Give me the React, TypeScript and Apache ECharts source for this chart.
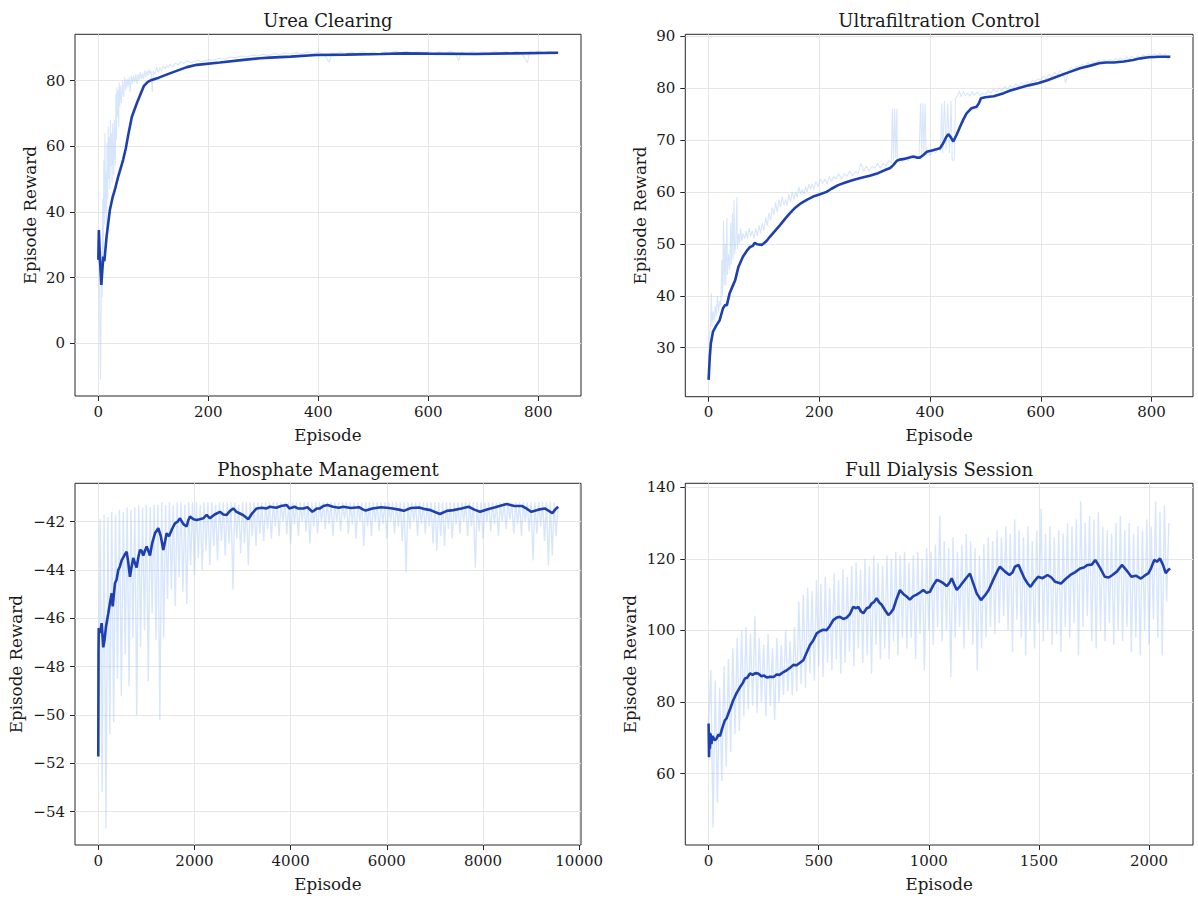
import React, { useEffect, useRef } from 'react';
import * as echarts from 'echarts';

// ---------------- DATA ----------------
// Panel 1: Urea Clearing
const p1Raw: number[][] = [
  [0,25],[1,34],[2,18],[3,4],[4,-11],[5,10],[6,28],[7,14],[8,44],[9,24],[10,56],[11,36],[12,64],[13,40],[14,52],[15,34],[16,61],[17,44],[18,66],[19,50],[20,63],[21,47],[22,68],[23,54],[24,64],[25,49],[26,67],[27,57],[28,51],[29,68],[30,60],[31,54],[32,76],[33,62],[34,78],[35,69],[36,77],[37,66],[38,79.5],[39,72],[40,78.5],[42,73],[44,80],[46,75],[48,81],[50,77],[52,80.5],[54,78],[56,81],[58,76.5],[60,81.5],[62,79],[64,81.5],[66,79.5],[68,82],[70,79],[72,82],[74,80],[76,82.5],[78,80.5],[80,82],[82,80.5],[84,83],[86,81],[88,83],[90,81.5],[92,83.5],[94,82],[96,83],[98,76.5],[100,83],[103,82],[106,84],[109,82.5],[112,84],[115,83],[118,84.5],[121,83.5],[124,84.5],[127,84],[130,85],[135,84.2],[140,85.3],[145,84.8],[150,85.7],[155,85.2],[160,86],[170,85.5],[180,86.2],[190,85.8],[200,86.4],[210,86.2],[220,86.8],[230,86.5],[240,87.2],[250,87],[260,87.5],[270,87.2],[280,87.8],[290,87.5],[300,88],[310,87.6],[320,88.3],[330,87.8],[340,88.5],[350,88],[360,88.6],[370,88.1],[380,88.7],[390,88.2],[400,88.6],[410,88],[420,85.5],[425,88.6],[430,88.1],[440,88.7],[450,88.2],[460,88.7],[470,88.2],[480,88.8],[490,88.3],[500,88.7],[510,88.2],[520,88.8],[530,88.3],[540,88.9],[550,88.4],[560,88.9],[570,88.3],[580,88.8],[590,88.2],[600,88.7],[610,88.2],[620,88.8],[630,88.3],[640,88.9],[650,88.2],[655,86],[660,88.7],[670,88.2],[680,88.8],[690,88.3],[700,88.8],[710,88.2],[720,88.9],[730,88.4],[740,88.8],[750,88.2],[760,88.9],[770,88.3],[780,85.5],[785,88.8],[790,88.3],[800,88.9],[810,88.4],[820,88.9],[830,88.4],[836,88.6]
];
const p1Smooth: number[][] = [
  [0,25.4],[1,34.5],[3,25.4],[5.5,17.8],[9,26.4],[11,25],[15,32.5],[21,40.6],[26,44.5],[30,46.7],[36,50.7],[45,55.8],[50,59.4],[55,64],[61,69],[70,73.1],[77,76],[83,78.4],[90,79.6],[97,80.2],[110,80.9],[130,82.2],[161,84.1],[179,84.8],[221,85.5],[264,86.3],[294,86.8],[312,87.0],[350,87.3],[396,87.8],[450,87.9],[514,88.1],[555,88.3],[600,88.2],[686,88.1],[756,88.3],[836,88.5]
];

// Panel 2: Ultrafiltration Control
const p2Raw: number[][] = [
  [0,24],[2,32],[4,36],[5,40.5],[6,34],[8,37],[10,35],[12,38],[14,36],[16,40],[18,37],[20,39],[22,38],[24,47],[25,40],[27,54.5],[28,42],[30,50],[31,42],[33,55],[34,44],[36,48],[38,45],[40,54],[41,46],[43,56],[44,47],[46,58.5],[47,48],[49,50],[51,59],[52,49],[54,52],[56,50],[58,53],[60,50.5],[62,52],[65,51],[68,52.5],[70,51],[73,53],[76,51.5],[79,52.5],[82,51],[85,53],[88,51.5],[91,53.5],[94,52],[97,54],[100,52.5],[103,55],[106,53.5],[109,56],[112,54.5],[115,57],[118,55.5],[121,58],[124,56],[127,58.5],[130,57],[133,59],[136,57.5],[139,58.5],[142,57.5],[145,59.5],[148,58],[151,60],[154,58.5],[157,60],[160,59],[163,61],[166,59.5],[169,60.5],[172,59.5],[175,61],[178,60],[181,61.5],[184,60.5],[187,61.5],[190,60.5],[194,62],[198,61],[202,62.5],[206,61.5],[210,62.5],[214,61.5],[218,63],[222,62],[226,63],[230,62.5],[235,63.5],[240,62.5],[245,63.5],[250,63],[255,64],[260,63],[265,64],[270,63.5],[275,65.5],[280,64],[285,65],[290,64],[295,65],[300,64.5],[305,65.5],[310,64.5],[315,65.5],[320,65],[325,66],[330,65.5],[332,76],[334,66],[336,76],[338,66.5],[340,76],[341,66],[345,66.5],[350,65.8],[355,66.7],[360,66],[365,67],[370,66.3],[375,67],[380,66.5],[383,77],[385,67],[387,77],[389,67.5],[391,77],[393,67.2],[396,67.8],[400,67],[405,68],[410,67.5],[415,68.5],[419,67.8],[421,77],[423,67.5],[426,77.5],[429,68],[432,77],[435,67.5],[438,77.5],[440,66.2],[442,66],[444,66.5],[446,78],[450,78.5],[453,79.5],[456,78.3],[460,79.3],[464,78.5],[468,79],[472,78.4],[476,79.3],[480,78.6],[485,79.2],[490,78.5],[495,79],[500,78.7],[505,79.5],[510,79],[515,79.8],[520,79.2],[525,80],[530,79.5],[535,80.3],[540,79.8],[545,80.5],[550,80],[555,80.8],[560,80.3],[565,81],[570,80.6],[575,81.3],[580,80.8],[585,81.5],[590,81.2],[595,81.8],[600,81.5],[605,82.3],[610,81.8],[615,82.6],[620,82.2],[625,83],[630,82.5],[635,83.3],[640,82.8],[645,81],[650,83.2],[655,84],[660,83.5],[665,84.2],[670,83.8],[675,84.6],[680,84.1],[685,84.9],[690,84.4],[695,85.1],[700,84.7],[705,85.3],[710,84.9],[715,85.4],[720,85],[725,85.5],[730,85.1],[735,85.7],[740,85.3],[745,85.8],[750,85.4],[755,86],[760,85.6],[765,86.1],[770,85.7],[775,86.2],[780,85.8],[785,86.4],[790,86],[795,86.5],[800,86.1],[805,86.6],[810,86.2],[815,86.7],[820,86.2],[825,86.6],[830,85.5],[834,86.3]
];
const p2Smooth: number[][] = [
  [0,23.8],[2,28],[4,30.8],[8,33.1],[14,34.3],[20,35.3],[26,37.6],[30,38.2],[33,38.2],[38,40.5],[44,42],[48,43],[54,45.6],[62,47.5],[70,48.8],[75,49.4],[80,49.6],[83,50.2],[88,49.9],[96,49.8],[100,50.1],[105,50.6],[111,51.4],[120,52.5],[129,53.6],[138,54.8],[147,55.9],[157,57],[168,57.9],[178,58.5],[189,59.1],[200,59.5],[213,60],[222,60.6],[234,61.3],[247,61.8],[261,62.3],[276,62.7],[291,63.1],[306,63.6],[321,64.3],[328,64.6],[334,65.2],[340,66.0],[345,66.2],[356,66.4],[370,66.8],[376,66.6],[382,66.6],[388,67.1],[394,67.7],[405,68.0],[418,68.4],[424,69.4],[429,70.5],[433,71.1],[437,70.6],[442,69.7],[448,71.0],[454,72.5],[460,73.9],[466,75.1],[475,76.1],[484,76.4],[488,77.0],[492,78.0],[500,78.2],[515,78.4],[533,79.0],[545,79.5],[561,80.0],[578,80.5],[595,80.9],[612,81.5],[630,82.2],[650,83.0],[671,83.8],[690,84.3],[705,84.75],[718,84.9],[732,84.9],[750,85.1],[767,85.4],[780,85.7],[795,85.9],[815,86.0],[834,86.0]
];

// Panel 3: Phosphate Management (raw sampled every 40 episodes)
const p3RawStep = 40;
const p3Raw: number[] = [
  -51.7,-41.9,-53.2,-41.7,-54.7,-41.8,-50.8,-41.6,-50.3,-41.7,
  -48.5,-41.5,-49.2,-41.6,-47.5,-41.4,-48.8,-41.5,-46.8,-41.4,
  -50.0,-41.3,-47.2,-41.4,-46.5,-41.3,-48.6,-41.4,-45.8,-41.3,
  -46.9,-41.3,-50.2,-41.2,-46.8,-41.3,-45.2,-41.2,-44.8,-41.3,
  -45.5,-41.2,-44.3,-41.2,-44.9,-41.3,-45.4,-41.2,-43.8,-41.2,
  -44.2,-41.2,-43.5,-41.3,-44.0,-41.2,-43.2,-41.2,-43.8,-41.2,
  -43.0,-41.3,-43.6,-41.2,-42.8,-41.2,-43.4,-41.2,-42.9,-41.2,
  -44.8,-41.2,-42.7,-41.3,-43.3,-41.2,-42.9,-41.2,-43.8,-41.2,
  -42.6,-41.2,-43.0,-41.2,-42.5,-41.2,-42.8,-41.2,-42.3,-41.2,
  -42.7,-41.2,-42.2,-41.2,-42.6,-41.2,-42.0,-41.2,-42.5,-41.2,
  -42.9,-41.2,-42.1,-41.2,-42.6,-41.2,-42.0,-41.2,-42.4,-41.2,
  -42.9,-41.2,-42.2,-41.2,-42.5,-41.2,-42.0,-41.2,-42.3,-41.2,
  -42.1,-41.2,-42.6,-41.2,-42.0,-41.2,-42.4,-41.2,-41.9,-41.2,
  -42.5,-41.2,-42.1,-41.2,-42.7,-41.2,-42.0,-41.2,-43.0,-41.2,
  -42.2,-41.2,-42.6,-41.2,-42.0,-41.2,-42.4,-41.2,-42.1,-41.2,
  -42.7,-41.2,-42.0,-41.2,-42.5,-41.2,-42.2,-41.2,-42.8,-41.2,
  -44.1,-41.2,-42.3,-41.2,-42.0,-41.2,-42.6,-41.2,-42.1,-41.2,
  -42.5,-41.2,-42.2,-41.2,-42.9,-41.2,-43.2,-41.2,-42.6,-41.2,
  -43.0,-41.2,-42.3,-41.2,-42.7,-41.2,-42.1,-41.2,-42.5,-41.2,
  -42.0,-41.2,-42.6,-41.2,-42.2,-41.2,-43.9,-41.2,-42.4,-41.2,
  -42.7,-41.2,-42.0,-41.2,-42.4,-41.2,-42.1,-41.2,-42.6,-41.2,
  -42.0,-41.2,-42.3,-41.2,-41.9,-41.2,-42.5,-41.2,-42.1,-41.2,
  -42.6,-41.2,-42.0,-41.2,-42.4,-41.2,-43.6,-41.2,-42.5,-41.2,
  -42.2,-41.2,-42.8,-41.2,-43.8,-41.2,-43.4,-41.2,-42.6,-41.4
];
const p3Smooth: number[][] = [
  [0,-51.72],[5,-47.5],[10,-46.4],[40,-46.6],[70,-46.2],[104,-47.2],[130,-46.9],[160,-46.35],[208,-45.8],[240,-45.4],[278,-44.96],[300,-45.5],[347,-44.55],[380,-44.4],[416,-44.0],[450,-43.85],[486,-43.6],[540,-43.4],[590,-43.24],[625,-43.7],[659,-44.28],[690,-43.9],[728,-43.5],[760,-43.7],[797,-43.9],[830,-43.5],[867,-43.17],[900,-43.2],[936,-43.4],[970,-43.2],[1006,-43.03],[1040,-43.2],[1075,-43.4],[1120,-42.9],[1179,-42.48],[1248,-42.27],[1300,-42.6],[1352,-43.17],[1390,-42.8],[1421,-42.48],[1470,-42.6],[1526,-42.34],[1560,-42.2],[1595,-42.07],[1650,-42.0],[1699,-41.86],[1770,-42.1],[1838,-42.2],[1870,-41.95],[1907,-41.79],[1980,-41.9],[2045,-41.93],[2110,-41.9],[2184,-41.86],[2253,-41.72],[2322,-41.86],[2420,-41.7],[2530,-41.59],[2600,-41.7],[2669,-41.72],[2740,-41.55],[2807,-41.45],[2880,-41.6],[2946,-41.66],[3030,-41.75],[3119,-41.9],[3200,-41.65],[3293,-41.45],[3400,-41.42],[3500,-41.45],[3570,-41.38],[3700,-41.42],[3800,-41.35],[3917,-41.31],[3976,-41.45],[4080,-41.38],[4150,-41.45],[4264,-41.45],[4350,-41.4],[4452,-41.59],[4550,-41.45],[4610,-41.45],[4680,-41.35],[4768,-41.31],[4880,-41.38],[5000,-41.42],[5100,-41.38],[5250,-41.43],[5423,-41.4],[5490,-41.48],[5561,-41.54],[5700,-41.45],[5878,-41.4],[6000,-41.42],[6117,-41.45],[6250,-41.5],[6353,-41.55],[6500,-41.43],[6670,-41.41],[6800,-41.48],[6908,-41.52],[7000,-41.6],[7105,-41.68],[7250,-41.55],[7383,-41.52],[7550,-41.45],[7700,-41.38],[7820,-41.5],[7938,-41.59],[8100,-41.48],[8255,-41.4],[8380,-41.33],[8492,-41.27],[8650,-41.35],[8809,-41.35],[8900,-41.45],[9007,-41.59],[9150,-41.5],[9285,-41.45],[9370,-41.55],[9443,-41.65],[9500,-41.5],[9562,-41.38]
];

// Panel 4: Full Dialysis Session (raw sampled every 10 episodes)
const p4RawStep = 10;
const p4Raw: number[] = [
  74,89,45,86,52,84,58,90,62,92,
  66,95,71,98,72,100,76,101,78,99,
  79,104,77,98,80,96,76,99,79,95,
  75,98,80,96,82,100,83,97,82,101,
  83,108,85,110,84,112,88,111,86,114,
  90,113,87,115,91,112,89,116,92,114,
  88,117,91,115,94,118,90,119,95,117,
  91,120,93,118,88,121,96,119,92,118,
  95,121,92,120,97,122,93,121,98,122,
  95,119,98,121,92,122,99,120,89,123,
  100,122,96,124,101,132,97,125,100,123,
  87,126,98,122,101,124,95,127,100,125,
  96,123,89,121,95,124,98,126,101,125,
  99,128,102,126,104,129,100,127,94,131,
  103,128,98,126,93,129,100,125,95,128,
  102,134,97,127,100,129,96,126,99,128,
  94,127,101,130,98,129,102,131,93,136,
  101,130,104,132,97,131,95,133,100,129,
  97,128,102,127,96,130,100,132,97,128,
  101,130,94,127,98,129,93,128,100,131,
  96,129,103,136,98,133,93,135,108,130
];
const p4Smooth: number[][] = [
  [0,74],[2,64.6],[4,71.5],[6,67],[9,71.2],[13,68.3],[17,70.5],[21,70.2],[28,69.3],[36,69.8],[45,71],[52,70.5],[59,72.1],[66,73.5],[74,74.9],[82,75.5],[89,76.7],[100,78.5],[112,80.5],[127,82.5],[143,84.2],[155,85.3],[165,86.6],[175,86.8],[188,88.0],[200,87.6],[212,88.1],[225,88.0],[240,87.2],[252,87.4],[264,86.85],[280,87.1],[295,87.0],[309,87.7],[322,87.6],[340,88.4],[355,88.9],[370,89.6],[385,90.4],[400,90.3],[415,91.0],[430,91.7],[445,93.8],[460,95.9],[475,97.2],[491,99.2],[505,99.8],[520,100.2],[536,100.1],[550,101.2],[566,102.9],[582,103.6],[597,103.8],[612,103.2],[627,103.6],[642,104.6],[657,106.6],[670,106.2],[680,106.6],[692,105.3],[703,104.8],[718,106.2],[730,106.5],[741,107.6],[752,108.0],[763,109],[775,107.8],[786,107.2],[800,105.8],[816,104.3],[828,105.0],[839,106],[852,108.5],[869,111.3],[884,110.2],[899,109.5],[914,108.6],[930,109.6],[945,110],[960,110.6],[975,111.3],[990,110.5],[1005,110.8],[1020,112.6],[1036,114.1],[1050,113.8],[1066,113.2],[1081,112.4],[1093,113.2],[1104,114.6],[1116,112.8],[1127,111.3],[1142,112.4],[1157,113.6],[1172,114.8],[1187,115.9],[1200,113.5],[1218,110.3],[1237,108.5],[1255,109.8],[1272,111.3],[1293,114.2],[1314,116.9],[1323,117.8],[1345,116.5],[1366,115.5],[1380,116.2],[1391,117.8],[1408,118.3],[1420,116.5],[1434,114.6],[1450,113.0],[1462,112.2],[1480,113.8],[1496,115],[1517,114.6],[1539,115.5],[1557,114.8],[1574,113.6],[1600,113.1],[1620,114.3],[1643,115.5],[1665,116.3],[1687,117.3],[1704,117.6],[1721,118.3],[1740,118.4],[1756,119.7],[1778,117.5],[1799,115],[1817,114.8],[1834,115.5],[1855,116.5],[1877,118.3],[1898,116.8],[1920,115],[1940,115.3],[1963,114.5],[1980,115.3],[1998,116],[2010,117.5],[2024,119.7],[2036,119.2],[2050,120.1],[2063,118.4],[2076,116],[2086,116.8],[2096,117.3]
];

// Tick labels
const titles = ['Urea Clearing', 'Ultrafiltration Control', 'Phosphate Management', 'Full Dialysis Session'];
const p1XTicks = [0, 200, 400, 600, 800];
const p1YTicks = [0, 20, 40, 60, 80];
const p2XTicks = [0, 200, 400, 600, 800];
const p2YTicks = [30, 40, 50, 60, 70, 80, 90];
const p3XTicks = [0, 2000, 4000, 6000, 8000, 10000];
const p3YTicks = [-54, -52, -50, -48, -46, -44, -42];
const p4XTicks = [0, 500, 1000, 1500, 2000];
const p4YTicks = [60, 80, 100, 120, 140];

// ---------------- LAYOUT / STYLE ----------------
const FONT = 'DejaVu Serif';
const TEXT = '#1a1a1a';
const RAW = '#a8c8f8';
const SMOOTH = '#1e40af';

const panels = [
  { left: 75, top: 34.3, width: 506, height: 361.7, xMin: -42.4, xMax: 877.6, xInt: 200, yMin: -16.05, yMax: 94.1, yInt: 20, yGap: 37, rawW: 1.1, xTicks: p1XTicks, yTicks: p1YTicks },
  { left: 685.3, top: 34.3, width: 507.7, height: 362.4, xMin: -42.1, xMax: 875, xInt: 200, yMin: 20.57, yMax: 90.33, yInt: 10, yGap: 37, rawW: 1.1, xTicks: p2XTicks, yTicks: p2YTicks },
  { left: 75, top: 483.3, width: 506, height: 361.7, xMin: -484, xMax: 10038, xInt: 2000, yMin: -55.38, yMax: -40.41, yInt: 2, yGap: 51, rawW: 1.4, xTicks: p3XTicks, yTicks: p3YTicks },
  { left: 685.3, top: 483.3, width: 507.7, height: 361.7, xMin: -105.8, xMax: 2199.8, xInt: 500, yMin: 40.1, yMax: 141.1, yInt: 20, yGap: 47, rawW: 1.4, xTicks: p4XTicks, yTicks: p4YTicks },
];

const fmt = (v: number) => (v < 0 ? '\u2212' + Math.abs(v) : String(v));
const stepPairs = (step: number, ys: number[]) => ys.map((y, i) => [i * step, y]);

const rawSeries = [p1Raw, p2Raw, stepPairs(p3RawStep, p3Raw), stepPairs(p4RawStep, p4Raw)];
const smoothSeries = [p1Smooth, p2Smooth, p3Smooth, p4Smooth];

function buildOption() {
  const grid = panels.map((p) => ({
    left: p.left, top: p.top, width: p.width, height: p.height,
    show: true, borderColor: '#262626', borderWidth: 1, containLabel: false,
  }));
  const axisText = { fontFamily: FONT, fontSize: 15, color: TEXT };
  const nameText = { fontFamily: FONT, fontSize: 16.7, color: TEXT };
  const split = { show: true, lineStyle: { color: '#e6e6e6', width: 1 } };
  const xAxis = panels.map((p, i) => ({
    type: 'value', gridIndex: i, min: p.xMin, max: p.xMax, minInterval: p.xInt, maxInterval: p.xInt,
    name: 'Episode', nameLocation: 'middle', nameGap: 30, nameTextStyle: nameText,
    axisLine: { show: false, onZero: false },
    axisTick: { show: true, length: 5, customValues: p.xTicks, lineStyle: { color: '#262626', width: 1 } },
    axisLabel: { customValues: p.xTicks, formatter: fmt, margin: 8, ...axisText },
    splitLine: split,
  }));
  const yAxis = panels.map((p, i) => ({
    type: 'value', gridIndex: i, min: p.yMin, max: p.yMax, minInterval: p.yInt, maxInterval: p.yInt,
    name: 'Episode Reward', nameLocation: 'middle', nameRotate: 90, nameGap: p.yGap, nameTextStyle: nameText,
    axisLine: { show: false, onZero: false },
    axisTick: { show: true, length: 5, customValues: p.yTicks, lineStyle: { color: '#262626', width: 1 } },
    axisLabel: { customValues: p.yTicks, formatter: fmt, margin: 10, ...axisText },
    splitLine: split,
  }));
  const series: any[] = [];
  panels.forEach((p, i) => {
    series.push({
      type: 'line', xAxisIndex: i, yAxisIndex: i, data: rawSeries[i], showSymbol: false, symbol: 'none',
      lineStyle: { color: RAW, width: p.rawW, opacity: 0.45 }, silent: true, z: 1,
    });
    series.push({
      type: 'line', xAxisIndex: i, yAxisIndex: i, data: smoothSeries[i], showSymbol: false, symbol: 'none',
      lineStyle: { color: SMOOTH, width: 2.6 }, silent: true, z: 2,
    });
  });
  const graphic = panels.map((p, i) => ({
    type: 'text', x: p.left + p.width / 2, y: p.top - 23,
    style: { text: titles[i], fontFamily: FONT, fontSize: 18, fill: TEXT, align: 'center', textAlign: 'center', verticalAlign: 'top', textVerticalAlign: 'top' },
    silent: true,
  }));
  return { animation: false, backgroundColor: '#ffffff', grid, xAxis, yAxis, series, graphic };
}

export default function App() {
  const ref = useRef<HTMLDivElement>(null);
  useEffect(() => {
    if (!ref.current) return;
    const chart = echarts.init(ref.current, null, { renderer: 'svg' });
    chart.setOption(buildOption() as any);
    return () => chart.dispose();
  }, []);
  return <div ref={ref} style={{ position: 'fixed', left: 0, top: 0, width: 1198, height: 898, background: '#fff' }} />;
}
